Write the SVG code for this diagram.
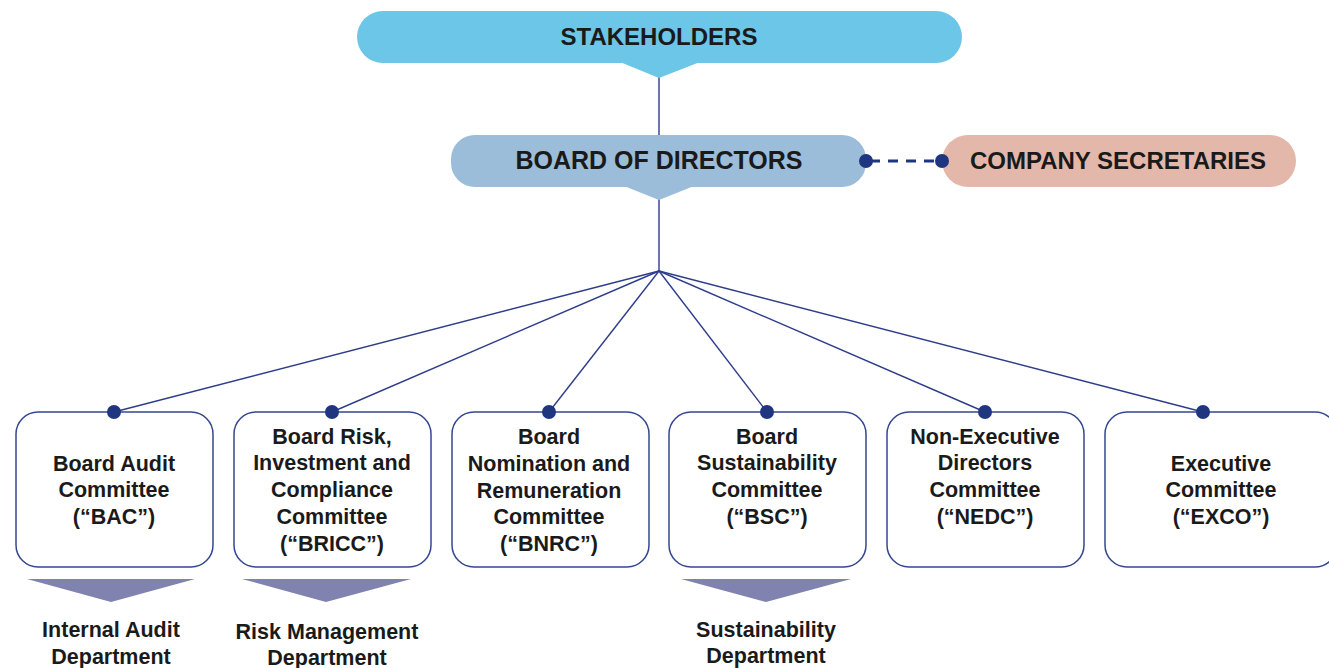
<svg xmlns="http://www.w3.org/2000/svg" width="1329" height="668" viewBox="0 0 1329 668">
<style>
.t{font-family:"Liberation Sans",Arial,sans-serif;font-weight:bold;fill:#1a1a1a;text-anchor:middle}
.big{font-size:24px}
.sm{font-size:21.5px}
.box{fill:#fff;stroke:#34478f;stroke-width:1.5}
.ln{stroke:#2e3d8a;stroke-width:1.4;fill:none}
.dot{fill:#1f3580}
.tri{fill:#8082b0}
</style>
<rect width="1329" height="668" fill="#fff"/>
<g id="connectors">
<line class="ln" x1="659" y1="76" x2="659" y2="136"/>
<line class="ln" x1="659" y1="198" x2="659" y2="271"/>
<line class="ln" x1="659" y1="271" x2="114" y2="412"/>
<line class="ln" x1="659" y1="271" x2="332" y2="412"/>
<line class="ln" x1="659" y1="271" x2="549" y2="412"/>
<line class="ln" x1="659" y1="271" x2="767" y2="412"/>
<line class="ln" x1="659" y1="271" x2="985" y2="412"/>
<line class="ln" x1="659" y1="271" x2="1203" y2="412"/>
<line x1="866" y1="161" x2="942" y2="161" stroke="#1f3580" stroke-width="2.8" stroke-dasharray="10,8" stroke-dashoffset="-4"/>
</g>
<g id="stakeholders">
<rect x="357" y="11" width="605" height="52" rx="26" fill="#6bc6e7"/>
<polygon points="620,62 700,62 659,78" fill="#6bc6e7"/>
<text class="t big" x="659" y="45">STAKEHOLDERS</text>
</g>
<g id="board">
<rect x="451" y="135" width="415" height="52" rx="24" fill="#9bbdd9"/>
<polygon points="624,186 694,186 659,200" fill="#9bbdd9"/>
<text class="t big" x="659" y="169" style="font-size:25px">BOARD OF DIRECTORS</text>
</g>
<g id="secretaries">
<rect x="942" y="135" width="354" height="52" rx="26" fill="#e3b8aa"/>
<text class="t big" x="1118" y="169">COMPANY SECRETARIES</text>
</g>
<g id="dots">
<circle class="dot" cx="866" cy="161" r="7"/>
<circle class="dot" cx="942" cy="161" r="7"/>
</g>
<g id="bac">
<rect class="box" x="16" y="412" width="197" height="155" rx="22"/>
<circle class="dot" cx="114" cy="412" r="7"/>
<text class="t sm" x="114" y="471">Board Audit</text>
<text class="t sm" x="114" y="497">Committee</text>
<text class="t sm" x="114" y="524">(“BAC”)</text>
</g>
<g id="bricc">
<rect class="box" x="234" y="412" width="197" height="155" rx="22"/>
<circle class="dot" cx="332" cy="412" r="7"/>
<text class="t sm" x="332" y="444">Board Risk,</text>
<text class="t sm" x="332" y="470">Investment and</text>
<text class="t sm" x="332" y="497">Compliance</text>
<text class="t sm" x="332" y="524">Committee</text>
<text class="t sm" x="332" y="551">(“BRICC”)</text>
</g>
<g id="bnrc">
<rect class="box" x="452" y="412" width="197" height="155" rx="22"/>
<circle class="dot" cx="549" cy="412" r="7"/>
<text class="t sm" x="549" y="444">Board</text>
<text class="t sm" x="549" y="471">Nomination and</text>
<text class="t sm" x="549" y="498">Remuneration</text>
<text class="t sm" x="549" y="524">Committee</text>
<text class="t sm" x="549" y="551">(“BNRC”)</text>
</g>
<g id="bsc">
<rect class="box" x="669" y="412" width="197" height="155" rx="22"/>
<circle class="dot" cx="767" cy="412" r="7"/>
<text class="t sm" x="767" y="444">Board</text>
<text class="t sm" x="767" y="470">Sustainability</text>
<text class="t sm" x="767" y="497">Committee</text>
<text class="t sm" x="767" y="524">(“BSC”)</text>
</g>
<g id="nedc">
<rect class="box" x="887" y="412" width="197" height="155" rx="22"/>
<circle class="dot" cx="985" cy="412" r="7"/>
<text class="t sm" x="985" y="444">Non-Executive</text>
<text class="t sm" x="985" y="470">Directors</text>
<text class="t sm" x="985" y="497">Committee</text>
<text class="t sm" x="985" y="524">(“NEDC”)</text>
</g>
<g id="exco">
<rect class="box" x="1105" y="412" width="232" height="155" rx="22"/>
<circle class="dot" cx="1203" cy="412" r="7"/>
<text class="t sm" x="1221" y="471">Executive</text>
<text class="t sm" x="1221" y="497">Committee</text>
<text class="t sm" x="1221" y="524">(“EXCO”)</text>
</g>
<g id="internal-audit">
<polygon class="tri" points="27,579 195,579 111,602"/>
<text class="t sm" x="111" y="637">Internal Audit</text>
<text class="t sm" x="111" y="664">Department</text>
</g>
<g id="risk-management">
<polygon class="tri" points="242,579 411,579 326,602"/>
<text class="t sm" x="327" y="639">Risk Management</text>
<text class="t sm" x="327" y="665">Department</text>
</g>
<g id="sustainability-dept">
<polygon class="tri" points="681,579 851,579 766,602"/>
<text class="t sm" x="766" y="637">Sustainability</text>
<text class="t sm" x="766" y="663">Department</text>
</g>
</svg>
